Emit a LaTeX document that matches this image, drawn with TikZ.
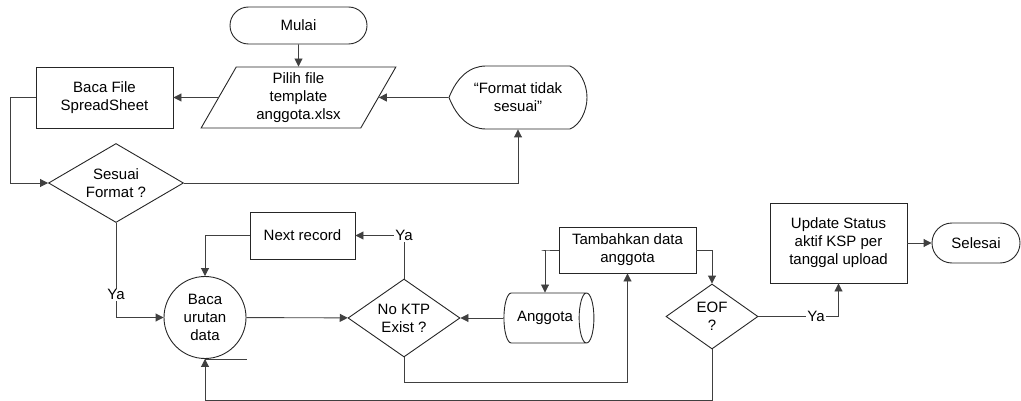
\documentclass[tikz,border=0pt]{standalone}
\usepackage{fontspec}
\setmainfont{Liberation Sans}
\usetikzlibrary{arrows.meta}
\usetikzlibrary{shapes.geometric,shapes.misc}

\begin{document}
\begin{tikzpicture}[x=1pt,y=-1pt,line width=0.9pt,
  every node/.style={font=\fontsize{15}{18}\selectfont,align=center,inner sep=0pt,draw=black!85},
  conn/.style={draw=black!75,-{Triangle[length=8pt,width=8pt]}},
  term/.style={rounded rectangle,minimum width=137,minimum height=37},
  proc/.style={rectangle,minimum width=137},
  dec/.style={diamond,aspect=1.5},
  lbl/.style={draw=none,fill=white,inner sep=1pt}]

% fix the page size
\useasboundingbox (0,0) rectangle (1021,401);

% top row
\node[term] (mulai) at (298.5,25.5) {Mulai};
\node[trapezium,trapezium left angle=64.6,trapezium right angle=115.4,
  trapezium stretches=true,minimum width=195,minimum height=61] (pilih) at (298.5,97.5)
  {Pilih file\\template\\anggota.xlsx};
\node[proc,minimum height=61] (bacafile) at (104.5,97.5) {Baca File\\SpreadSheet};
\node[draw=none,minimum width=138,minimum height=63] (fmt) at (518,97.5) {``Format tidak\\sesuai''};
\draw[black!85] (449,97.5) .. controls (457,77) and (470,66) .. (486,66) -- (570,66)
  .. controls (580,70) and (587,84) .. (587,97.5) .. controls (587,111) and (580,125) .. (570,129)
  -- (486,129) .. controls (470,129) and (457,118) .. cycle;
\node[dec,minimum width=135,minimum height=79] (sesuai) at (116,183) {Sesuai\\Format ?};

% bottom row
\node[circle,minimum size=82] (baca) at (205,317.5) {Baca\\urutan\\data};
\node[proc,minimum width=105,minimum height=47] (next) at (302.5,235.5) {Next record};
\node[dec,minimum width=112,minimum height=78] (noktp) at (404,318) {No KTP\\Exist ?};
\node[cylinder,aspect=1.1,minimum width=50,minimum height=90] (anggota) at (545,318) {Anggota};
\node[proc,minimum height=46] (tambah) at (627.5,250) {Tambahkan data\\anggota};
\node[dec,minimum width=92,minimum height=65] (eof) at (712,316.5) {EOF\\?};
\node[proc,minimum height=80] (update) at (838.5,243) {Update Status\\aktif KSP per\\tanggal upload};
\node[term,minimum width=88,minimum height=40] (selesai) at (976,243) {Selesai};

% connectors
\draw[conn] (mulai) -- (pilih);
\draw[conn] (pilih) -- (bacafile);
\draw[conn] (fmt) -- (pilih);
\draw[conn] (bacafile.west) -- ++(-25,0) |- (sesuai.west);
\draw[conn] (sesuai.east) -| (fmt.south);
\draw[conn] (sesuai.south) |- (baca.west) node[lbl,pos=0.38] {Ya};
\draw[conn] (next.west) -| (baca.north);
\draw[conn] (baca) -- (noktp);
\draw[conn] (noktp.north) |- (next.east) node[lbl,pos=0.5] {Ya};
\draw[conn] (anggota) -- (noktp);
\draw[conn] (tambah.west) -- ++(-17,0) -| (anggota.north);
\draw[conn] (noktp.south) -- ++(0,25) -| (tambah.south);
\draw[conn] (tambah.east) -| (eof.north);
\draw[conn] (eof.east) -| (update.south) node[lbl,pos=0.36] {Ya};
\draw[conn] (eof.south) -- ++(0,50.5) -| (baca.south);
\draw[conn] (update) -- (selesai);
\draw[black!75] (baca.south) -- ++(42,0);

\end{tikzpicture}
\end{document}
